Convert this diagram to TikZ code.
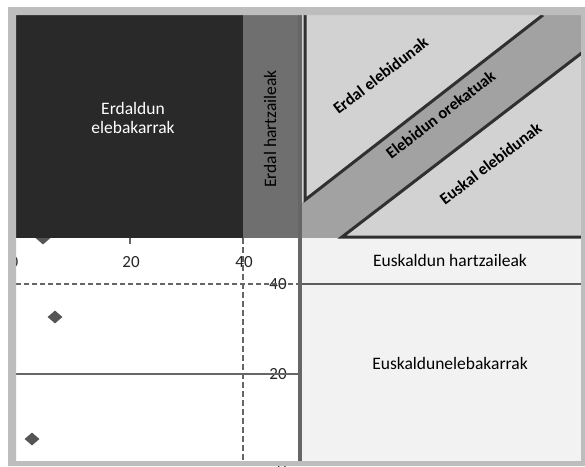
\documentclass[tikz,border=0pt]{standalone}
\usepackage{fontspec}
\setmainfont{Carlito}
\usetikzlibrary{shapes.geometric}
\definecolor{framec}{HTML}{BDBDBD}
\definecolor{darkblk}{HTML}{292929}
\definecolor{colgrey}{HTML}{6F6F6F}
\definecolor{lightg}{HTML}{D2D2D2}
\definecolor{bandg}{HTML}{A2A2A2}
\definecolor{paleg}{HTML}{F2F2F2}
\definecolor{edgec}{HTML}{303030}
\definecolor{axisg}{HTML}{666666}
\definecolor{markc}{HTML}{555555}
\tikzset{
  lbl/.style={font=\fontsize{17.5}{19}\selectfont, inner sep=0pt},
  dlbl/.style={font=\fontsize{16.5}{18}\selectfont\bfseries, inner sep=0pt, anchor=base, rotate=37.5},
  ticklbl/.style={font=\fontsize{17}{18}\selectfont, inner sep=0pt, text=black!85},
  dmark/.style={fill=markc, inner sep=0pt, minimum width=15pt, minimum height=13pt, diamond, draw=none},
  edgeline/.style={draw=edgec, line width=3pt},
  gridline/.style={draw=axisg, line width=2pt},
}
\begin{document}
\begin{tikzpicture}[x=1pt,y=-1pt]
\useasboundingbox (0,0) rectangle (585,466);
\fill[white] (0,0) rectangle (585,466);
% scatter markers
\node[dmark] (m1) at (43,238) {};
\node[dmark] (m2) at (55,317) {};
\node[dmark] (m3) at (32,439) {};
% upper left blocks
\fill[darkblk] (16,15) rectangle (243,238);
\fill[colgrey] (243,15) rectangle (300,238);
% upper right
\fill[lightg] (302,15) rectangle (581,238);
\fill[bandg] (302,203) -- (543,15) -- (581,15) -- (581,52) -- (342,238) -- (302,238) -- cycle;
\fill[paleg] (302,238) rectangle (581,461);
\draw[edgeline] (305,15) -- (305,200) -- (543,15);
\draw[edgeline, line join=miter] (583,52) -- (342,237) -- (581,237);
% axis tick labels
\node[ticklbl] (t0) at (14,262) {0};
\node[ticklbl] (t20) at (131,262) {20};
\node[ticklbl] (t40) at (244,262) {40};
\node[ticklbl] (r40) at (278,284) {40};
\node[ticklbl] (r20) at (278,374) {20};
\node[ticklbl] (r0) at (282,467) {0};
% grid lines
\draw[gridline, dash pattern=on 5pt off 3pt] (16,284) -- (298,284);
\draw[gridline] (16,374) -- (298,374);
\draw[gridline, dash pattern=on 6pt off 3pt] (243,238) -- (243,461);
\draw[gridline] (130,238) -- (130,244);
\draw[draw=axisg!90!black, line width=2.5pt] (302,284) -- (581,284);
\draw[draw=axisg, line width=4.5pt] (300,15) -- (300,461);
% labels
\node[lbl, text=white, align=center] (ee) at (133,118) {Erdaldun\\elebakarrak};
\node[lbl, anchor=base, rotate=90] (eh) at (276,129) {Erdal hartzaileak};
\node[dlbl] (erb) at (384,80) {Erdal elebidunak};
\node[dlbl] (eo) at (444,119) {Elebidun orekatuak};
\node[dlbl] (eub) at (494,168) {Euskal elebidunak};
\node[lbl, anchor=base] (euh) at (450,266) {Euskaldun hartzaileak};
\node[lbl, anchor=base] (eue) at (450,369) {Euskaldunelebakarrak};
% frame
\fill[framec, even odd rule] (8,7) rectangle (585,466) (16,15) rectangle (581,461);
\end{tikzpicture}
\end{document}
